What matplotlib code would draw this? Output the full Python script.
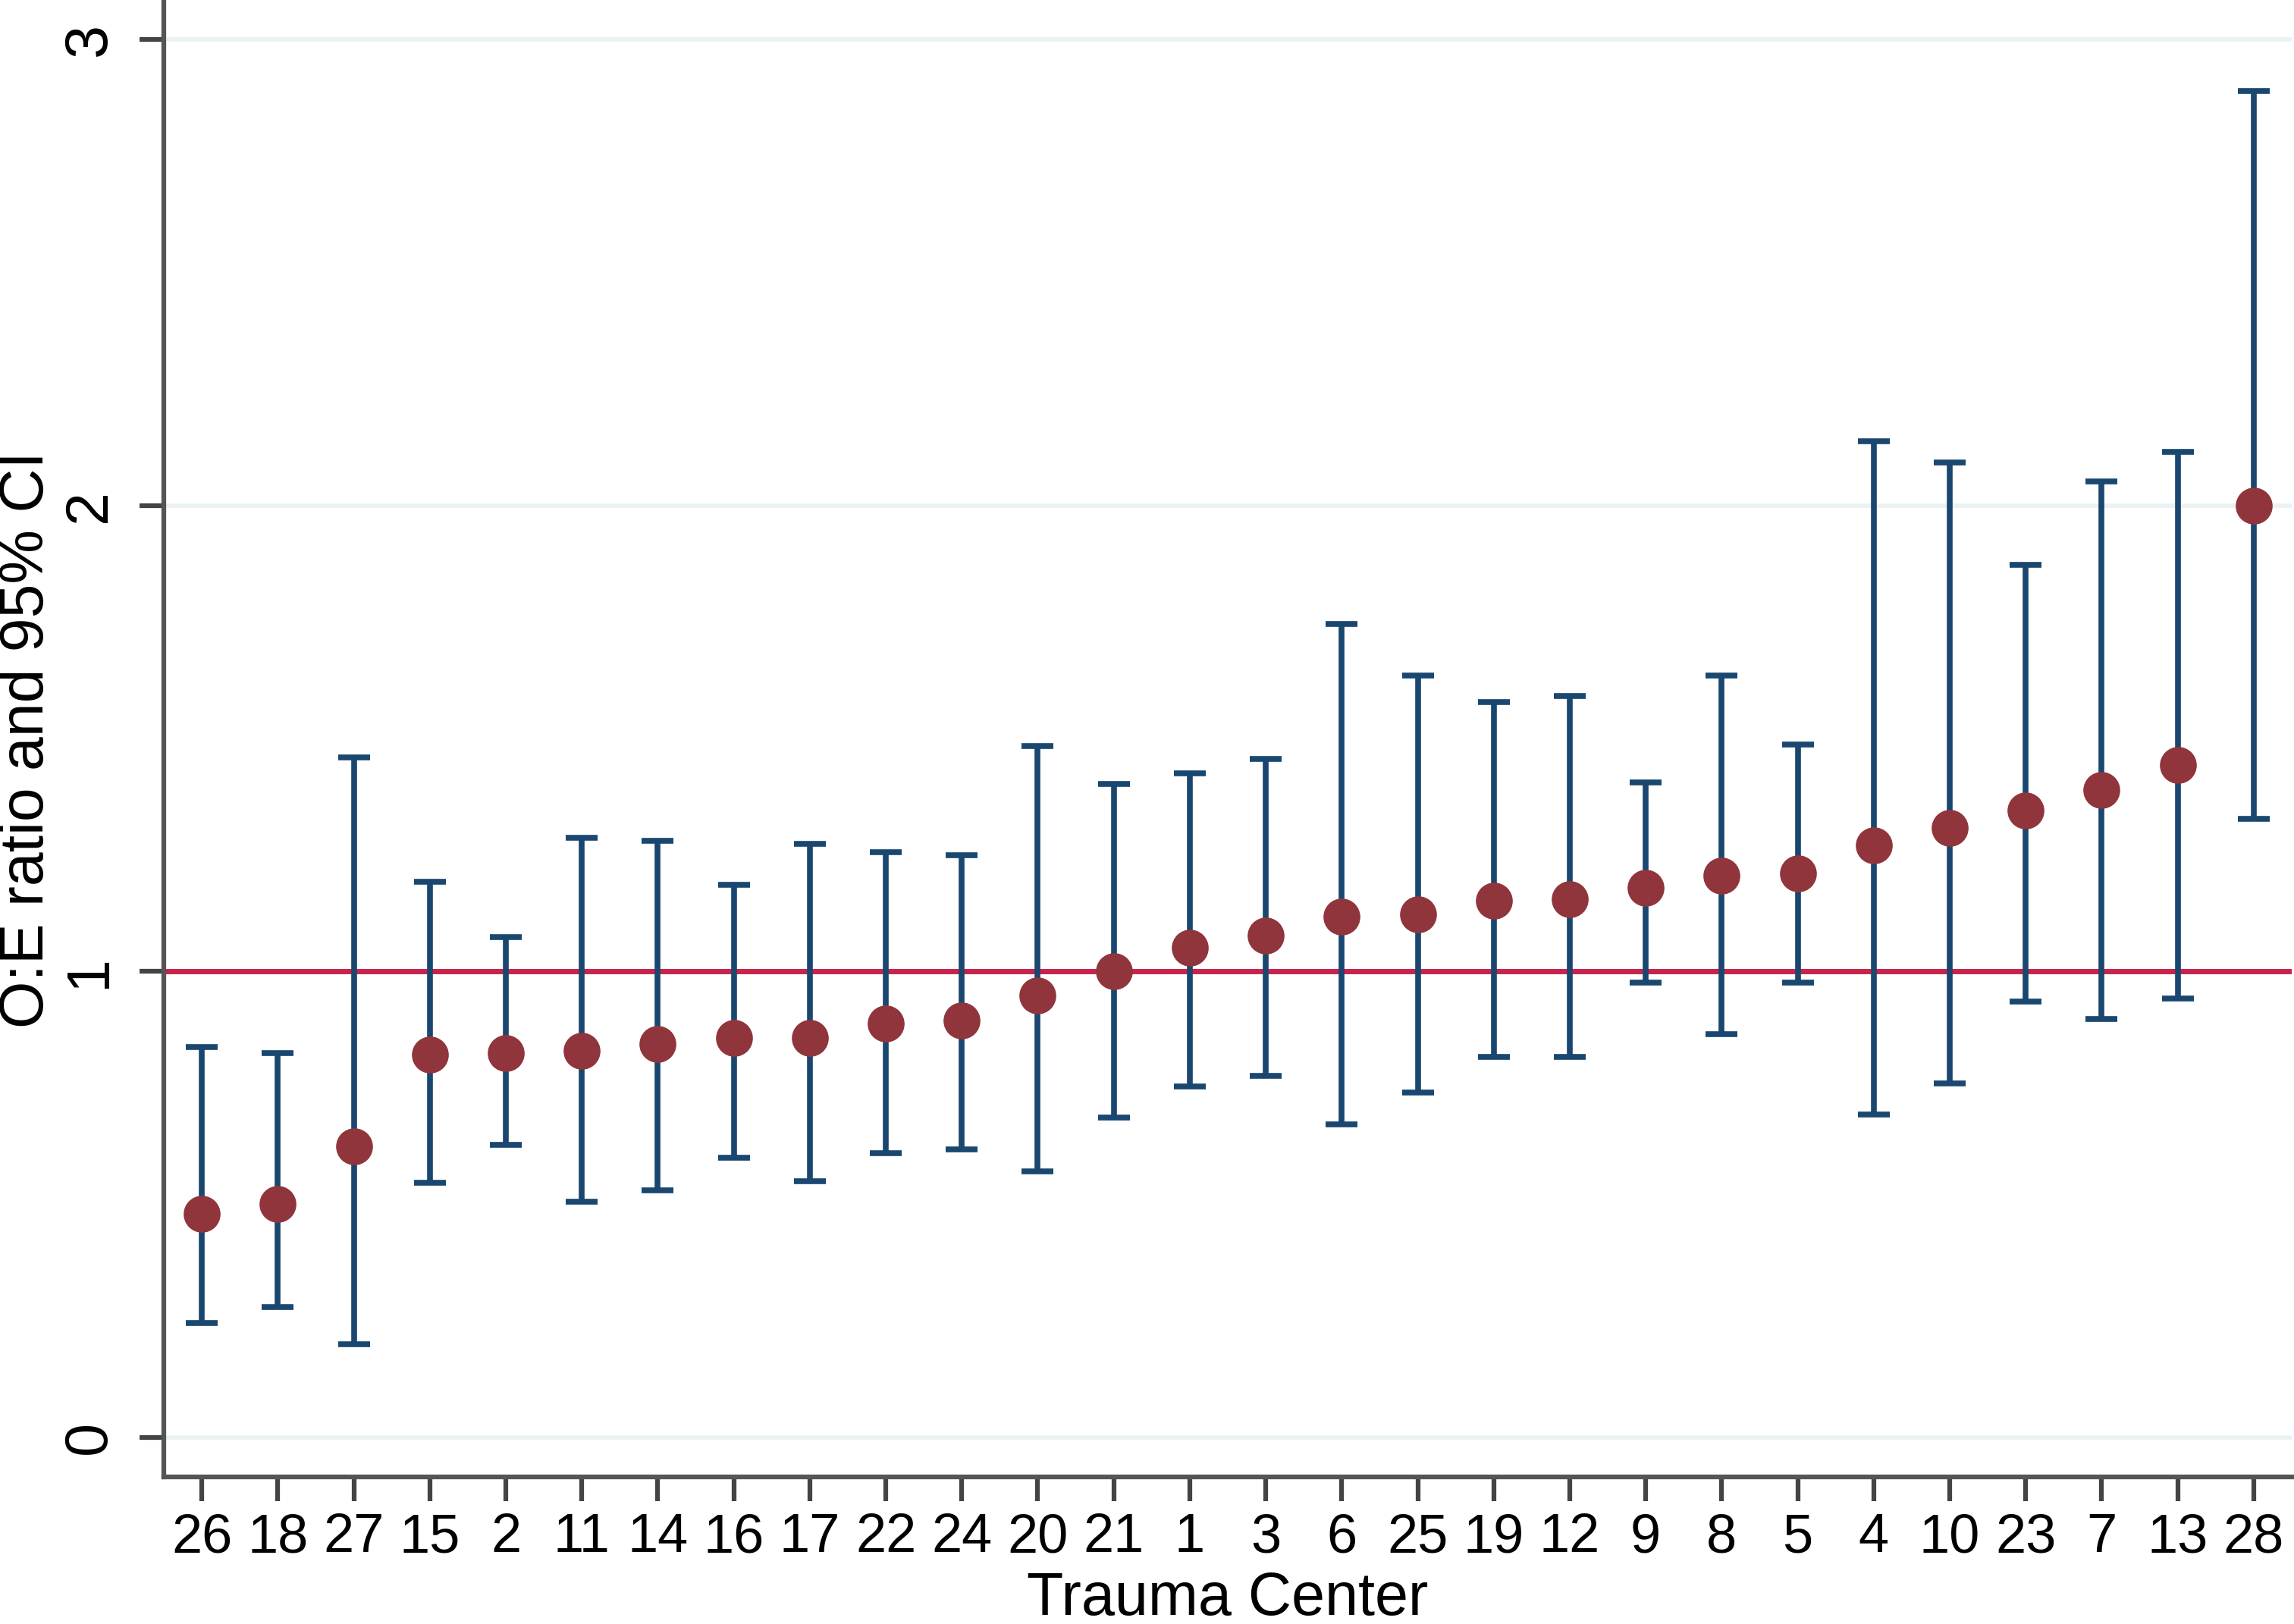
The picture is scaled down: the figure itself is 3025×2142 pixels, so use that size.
import numpy as np
import matplotlib
matplotlib.use("Agg")
import matplotlib.pyplot as plt

# --- Dados: razão O:E e IC 95% por centro de trauma ---
centros = ["26", "18", "27", "15", "2", "11", "14", "16", "17", "22", "24", "20", "21", "1",
           "3", "6", "25", "19", "12", "9", "8", "5", "4", "10", "23", "7", "13", "28"]
razao = [0.48, 0.50, 0.625, 0.822, 0.825, 0.83, 0.844, 0.857, 0.857, 0.888, 0.894, 0.948,
         1.00, 1.051, 1.076, 1.117, 1.123, 1.152, 1.155, 1.18, 1.205, 1.211, 1.271, 1.308,
         1.346, 1.39, 1.443, 2.00]
ic_inf = [0.245, 0.28, 0.20, 0.546, 0.628, 0.505, 0.53, 0.60, 0.549, 0.609, 0.618, 0.571,
          0.687, 0.753, 0.775, 0.671, 0.74, 0.816, 0.816, 0.976, 0.866, 0.976, 0.693, 0.759,
          0.935, 0.897, 0.941, 1.327]
ic_sup = [0.838, 0.825, 1.459, 1.192, 1.073, 1.286, 1.28, 1.186, 1.274, 1.255, 1.249, 1.484,
          1.403, 1.425, 1.456, 1.745, 1.635, 1.578, 1.591, 1.406, 1.635, 1.487, 2.137, 2.093,
          1.873, 2.052, 2.115, 2.89]

plt.rcParams['font.family'] = ['Liberation Sans', 'DejaVu Sans']

x = np.arange(len(centros))
razao = np.array(razao)
erro = [razao - np.array(ic_inf), np.array(ic_sup) - razao]

fig = plt.figure(figsize=(30.25, 21.42), dpi=100)
ax = fig.add_axes([0.0714, 0.0906, 0.9276, 0.908])

# linhas de grade (estilo Stata)
for v in [0, 1, 2, 3]:
    ax.axhline(v, color='#eaf2f3', lw=4, zorder=0)

# linha de referência em 1
ax.axhline(1, color='#c8234b', lw=5, zorder=1)

ax.errorbar(x, razao, yerr=erro, fmt='none', ecolor='#1a476f', elinewidth=5.5,
            capsize=15, capthick=5.5, zorder=2)
ax.plot(x, razao, 'o', color='#90353b', markersize=35, markeredgewidth=0, zorder=3)

ax.set_xlim(-0.5, 27.5)
ax.set_ylim(-0.085, 3.08)
ax.set_xticks(x)
ax.set_xticklabels(centros)
ax.set_yticks([0, 1, 2, 3])

for lado in ['top', 'right']:
    ax.spines[lado].set_visible(False)
for lado in ['left', 'bottom']:
    ax.spines[lado].set_linewidth(4.5)
    ax.spines[lado].set_color('#555555')

ax.tick_params(axis='both', length=23, width=4.5, color='#444444')
ax.tick_params(axis='x', pad=11, labelsize=52)
ax.tick_params(axis='y', pad=20, labelsize=57)
plt.setp(ax.get_yticklabels(), rotation=90, va='center')

ax.set_xlabel('Trauma Center', fontsize=57, va='center')
ax.xaxis.set_label_coords(0.5, -0.083)
ax.set_ylabel('O:E ratio and 95% CI', fontsize=58, va='center')
ax.yaxis.set_label_coords(-0.064, 0.5)

plt.savefig('out.png', dpi=100)
